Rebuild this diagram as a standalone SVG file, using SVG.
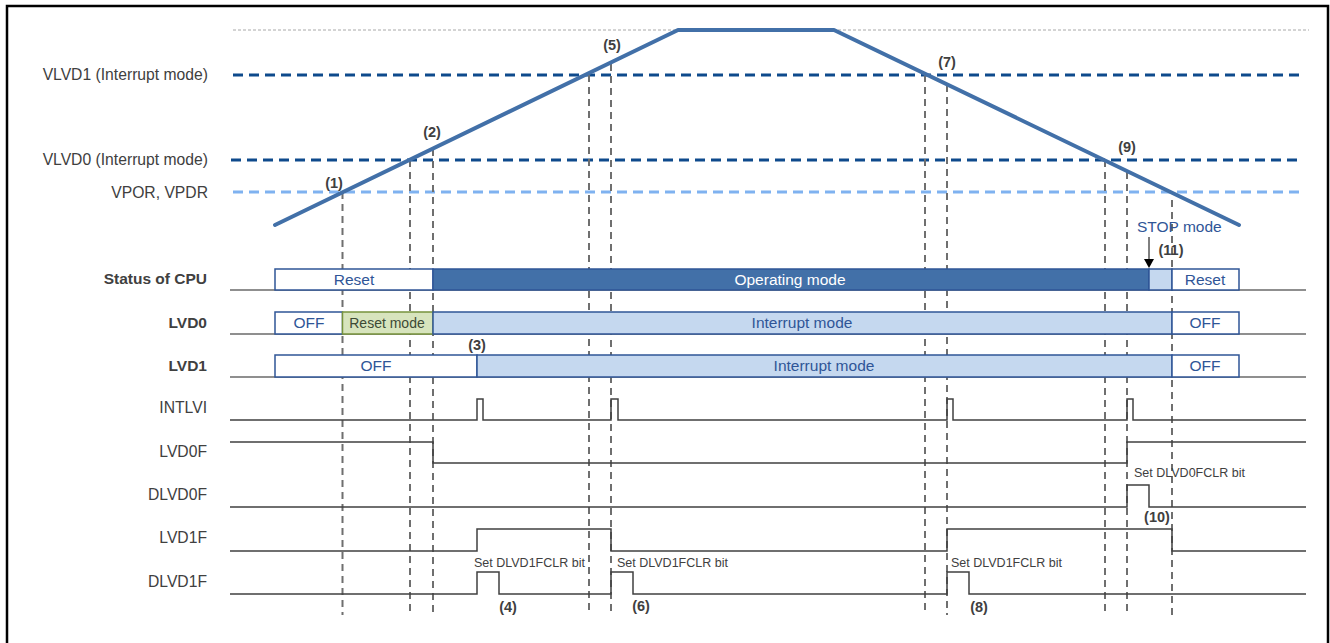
<svg xmlns="http://www.w3.org/2000/svg" width="1330" height="643" viewBox="0 0 1330 643">
<style>
text{font-family:"Liberation Sans",Arial,sans-serif;fill:#404040}
.lbl{font-size:15.7px;text-anchor:end}
.lblb{font-size:15.5px;text-anchor:end;font-weight:bold}
.num{font-size:14.5px;font-weight:bold;text-anchor:middle}
.box{font-size:15.5px;text-anchor:middle;fill:#2f5597}
.boxw{font-size:15.5px;text-anchor:middle;fill:#ffffff}
.note{font-size:12.5px}
.vd{stroke:#6f6f6f;stroke-width:2;stroke-dasharray:7,5;fill:none}
.base{stroke:#6a6a6a;stroke-width:1.5;fill:none}
.sig{stroke:#404040;stroke-width:1.5;fill:none}
.bw{fill:#ffffff;stroke:#2f5597;stroke-width:1.5}
.bd{fill:#4270a8;stroke:#2f5597;stroke-width:1.5}
.bl{fill:#c5d8ef;stroke:#2f5597;stroke-width:1.5}
.bg{fill:#d7e4bd;stroke:#77933c;stroke-width:1.5}
</style>
<rect x="7" y="6" width="1321" height="645" fill="#ffffff" stroke="#000" stroke-width="2.5"/>

<g id="thresholds">
<line x1="233" y1="30" x2="1309" y2="30" stroke="#a8a8a8" stroke-width="1" stroke-dasharray="3,2"/>
<line x1="233" y1="75" x2="1305" y2="75" stroke="#0e4a8c" stroke-width="3" stroke-dasharray="10,6"/>
<line x1="231" y1="160" x2="1303" y2="160" stroke="#0e4a8c" stroke-width="3" stroke-dasharray="10,6"/>
<line x1="233" y1="192" x2="1305" y2="192" stroke="#7fb2f0" stroke-width="3" stroke-dasharray="10,6"/>
<text class="lbl" x="208" y="80">VLVD1 (Interrupt mode)</text>
<text class="lbl" x="208" y="165">VLVD0 (Interrupt mode)</text>
<text class="lbl" x="208" y="198">VPOR, VPDR</text>
</g>

<g id="connectors">
<line class="vd" x1="342.5" y1="192" x2="342.5" y2="615"/>
<line class="vd" x1="410" y1="160" x2="410" y2="615"/>
<line class="vd" x1="433" y1="149" x2="433" y2="615"/>
<line class="vd" x1="589" y1="75" x2="589" y2="615"/>
<line class="vd" x1="611" y1="64" x2="611" y2="615"/>
<line class="vd" x1="925" y1="75" x2="925" y2="615"/>
<line class="vd" x1="947" y1="85" x2="947" y2="615"/>
<line class="vd" x1="1105" y1="160" x2="1105" y2="615"/>
<line class="vd" x1="1127" y1="172" x2="1127" y2="615"/>
<line class="vd" x1="1172" y1="200" x2="1172" y2="615"/>
</g>

<g id="voltage">
<polyline points="275,225 678,30 834,30 1239,225" fill="none" stroke="#4270a8" stroke-width="4" stroke-linecap="round" stroke-linejoin="round"/>
<text class="num" x="334" y="188">(1)</text>
<text class="num" x="432" y="137">(2)</text>
<text class="num" x="612" y="50">(5)</text>
<text class="num" x="947" y="67">(7)</text>
<text class="num" x="1127" y="152">(9)</text>
</g>

<g id="stop-note">
<text x="1137" y="232" style="font-size:15.5px;fill:#2f5597">STOP mode</text>
<line x1="1149" y1="237" x2="1149" y2="260" stroke="#000" stroke-width="1"/>
<polygon points="1144,259 1154,259 1149,268" fill="#000"/>
<text class="num" x="1171" y="255">(11)</text>
</g>

<g id="cpu">
<line class="base" x1="230" y1="290" x2="1306" y2="290"/>
<rect class="bw" x="275" y="269" width="158" height="21"/>
<rect class="bd" x="433" y="269" width="716" height="21"/>
<rect class="bl" x="1149" y="269" width="23" height="21"/>
<rect class="bw" x="1172" y="269" width="67" height="21"/>
<text class="lblb" x="207" y="284">Status of CPU</text>
<text class="box" x="354" y="285">Reset</text>
<text class="boxw" x="790" y="285">Operating mode</text>
<text class="box" x="1205" y="285">Reset</text>
</g>

<g id="lvd0">
<line class="base" x1="230" y1="334" x2="1306" y2="334"/>
<rect class="bw" x="275" y="312" width="67.5" height="22"/>
<rect class="bg" x="342.5" y="312" width="90.5" height="22"/>
<rect class="bl" x="433" y="312" width="739" height="22"/>
<rect class="bw" x="1172" y="312" width="67" height="22"/>
<text class="lblb" x="207" y="328">LVD0</text>
<text class="box" x="309" y="328">OFF</text>
<text x="387" y="328" style="font-size:14px;text-anchor:middle;fill:#3d4a35">Reset mode</text>
<text class="box" x="802" y="328">Interrupt mode</text>
<text class="box" x="1205" y="328">OFF</text>
</g>

<g id="lvd1">
<line class="base" x1="230" y1="377" x2="1306" y2="377"/>
<rect class="bw" x="275" y="355" width="202" height="22"/>
<rect class="bl" x="477" y="355" width="695" height="22"/>
<rect class="bw" x="1172" y="355" width="67" height="22"/>
<text class="lblb" x="207" y="371">LVD1</text>
<text class="num" x="477" y="350">(3)</text>
<text class="box" x="376" y="371">OFF</text>
<text class="box" x="824" y="371">Interrupt mode</text>
<text class="box" x="1205" y="371">OFF</text>
</g>

<g id="intlvi">
<text class="lbl" x="207" y="413">INTLVI</text>
<polyline class="sig" points="230,420 477,420 477,399 483,399 483,420 611,420 611,399 618,399 618,420 947,420 947,399 953,399 953,420 1127,420 1127,399 1133,399 1133,420 1306,420"/>
</g>

<g id="lvd0f">
<text class="lbl" x="207" y="457">LVD0F</text>
<polyline class="sig" points="230,442 433,442 433,463 1127,463 1127,442 1306,442"/>
</g>

<g id="dlvd0f">
<text class="lbl" x="207" y="500">DLVD0F</text>
<polyline class="sig" points="230,507 1127,507 1127,485 1149,485 1149,507 1306,507"/>
<text class="note" x="1134" y="477">Set DLVD0FCLR bit</text>
<text class="num" x="1157" y="522">(10)</text>
</g>

<g id="lvd1f">
<text class="lbl" x="207" y="543">LVD1F</text>
<polyline class="sig" points="230,551 477,551 477,529 611,529 611,551 947,551 947,529 1172,529 1172,551 1306,551"/>
</g>

<g id="dlvd1f">
<text class="lbl" x="207" y="587">DLVD1F</text>
<polyline class="sig" points="230,594 477,594 477,572 499,572 499,594 611,594 611,572 633,572 633,594 947,594 947,572 969,572 969,594 1306,594"/>
<text class="note" x="474" y="567">Set DLVD1FCLR bit</text>
<text class="note" x="617" y="567">Set DLVD1FCLR bit</text>
<text class="note" x="951" y="567">Set DLVD1FCLR bit</text>
<text class="num" x="508" y="612">(4)</text>
<text class="num" x="641" y="611">(6)</text>
<text class="num" x="979" y="612">(8)</text>
</g>
</svg>
